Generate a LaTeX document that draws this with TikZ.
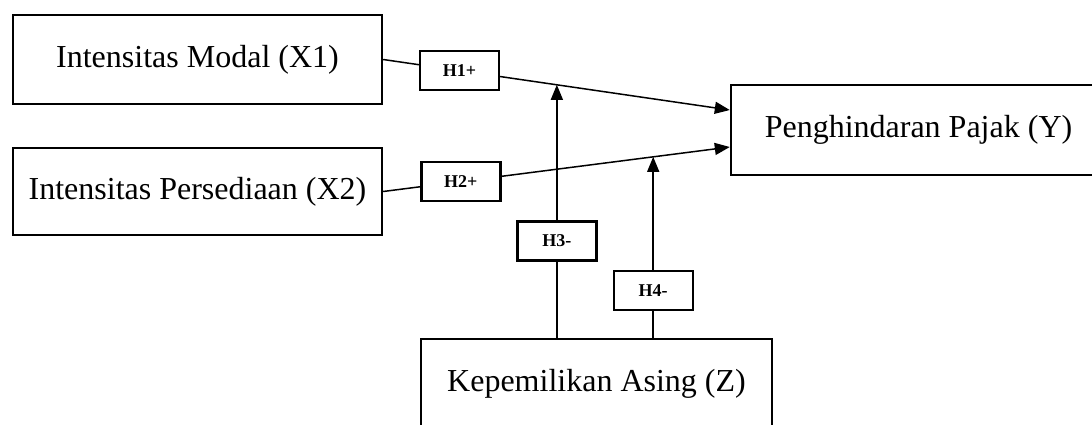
\documentclass[tikz,border=0pt]{standalone}
\usepackage{fontspec}
\setmainfont{Liberation Serif}
\usetikzlibrary{arrows.meta}

\tikzset{
  box/.style={draw, line width=2.4pt, rectangle, inner sep=0pt, font=\fontsize{32}{38}\selectfont},
  hyp/.style={draw, line width=2.4pt, fill=white, rectangle, inner sep=0pt,
    minimum width=79pt, minimum height=39pt, font=\fontsize{18}{20}\selectfont\bfseries},
  link/.style={line width=1.5pt},
  arr/.style={link, -{Triangle[length=15pt,width=12pt]}}
}

\begin{document}
\begin{tikzpicture}[x=1pt, y=-1pt]
\useasboundingbox (0,0) rectangle (1092,424);

% Variables
\node[box, minimum width=369pt, minimum height=89pt] (X1) at (197.5,59.5) {Intensitas Modal (X1)};
\node[box, minimum width=369pt, minimum height=87pt] (X2) at (197.5,191.5) {Intensitas Persediaan (X2)};
\node[box, minimum width=375pt, minimum height=90pt] (Y) at (918.5,130) {Penghindaran Pajak (Y)};
\node[box, minimum width=351pt, minimum height=90pt] (Z) at (596.5,384) {Kepemilikan Asing (Z)};

% Direct effects
\draw[arr] (X1.east) -- coordinate[pos=0.501] (m1) node[hyp, pos=0.22] (H1) {H1+} ([yshift=20pt]Y.west);
\draw[arr] (X2.east) -- coordinate[pos=0.779] (m2) node[hyp, pos=0.224] (H2) {H2+} ([yshift=-17pt]Y.west);

% Moderation
\draw[arr] (Z.north -| m1) -- node[hyp, pos=0.383] (H3) {H3-} (m1);
\draw[arr] (Z.north -| m2) -- node[hyp, pos=0.26] (H4) {H4-} (m2);

\end{tikzpicture}
\end{document}
